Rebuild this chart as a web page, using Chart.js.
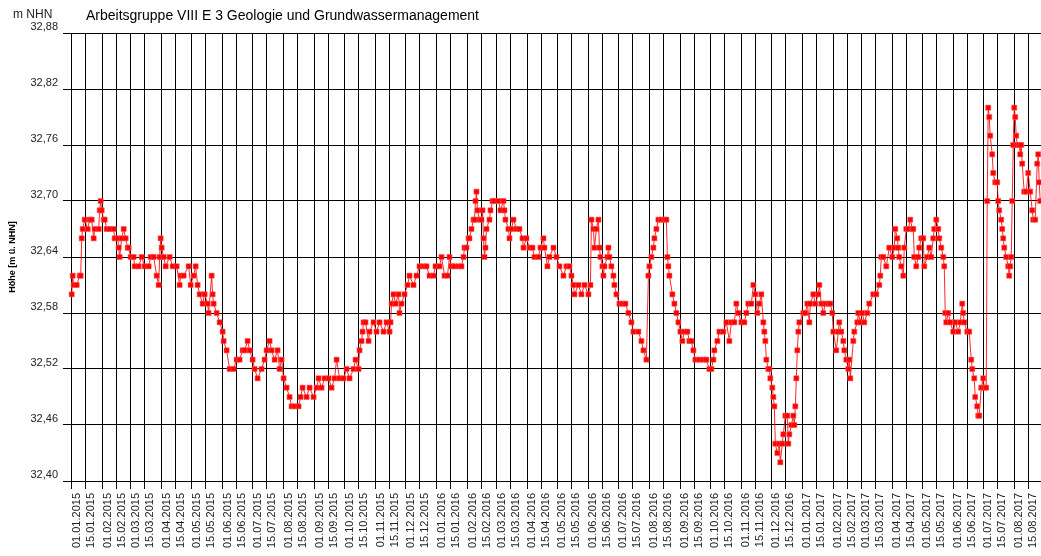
<!DOCTYPE html>
<html>
<head>
<meta charset="utf-8">
<script src="https://cdn.jsdelivr.net/npm/chart.js@4/dist/chart.umd.min.js"></script>
<style>
  html, body { margin: 0; padding: 0; background: #fff; overflow: hidden; width: 1041px; height: 556px; }
  #wrap { position: relative; width: 1041px; height: 556px; overflow: hidden; }
  canvas { position: absolute; left: 0; top: 0; }
  .lbl { position: absolute; font-family: "Liberation Sans", Arial, sans-serif; color: #000; line-height: 1; white-space: nowrap; }
</style>
</head>
<body>
<div id="wrap">
  <canvas id="c" width="1060" height="556"></canvas>
  <div class="lbl" style="left:13px; top:8px; font-size:12px; color:#222;">m NHN</div>
  <div class="lbl" style="left:86px; top:8px; font-size:14px;">Arbeitsgruppe VIII E 3 Geologie und Grundwassermanagement</div>
</div>
<script>
// Day offsets counted from 01.01.2015 and the measured water levels (m NHN)
const days = [
  0,1,2,5,8,9,10,11,13,16,18,20,22,23,27,28,29,30,32,33,35,38,42,43,46,47,48,50,52,54,56,57,59,62,63,67,70,73,77,79,82,85,87,88,89,90,92,94,98,101,105,108,109,112,117,119,122,124,126,128,131,133,136,137,140,141,142,145,148,151,152,155,158,162,165,168,171,173,176,178,181,183,186,190,193,195,198,200,203,206,208,210,212,215,218,220,223,227,229,231,235,238,242,245,247,250,253,257,260,263,265,
  268,272,275,278,282,284,287,288,290,291,292,294,297,298,302,305,308,312,315,318,319,320,322,324,327,328,330,333,336,338,342,345,348,352,355,358,362,364,368,370,373,376,378,380,383,387,390,392,393,395,397,398,400,402,403,404,405,406,408,410,411,412,413,414,415,418,419,421,423,427,429,432,433,434,437,438,440,442,445,448,451,452,455,458,461,463,467,469,472,473,476,478,482,485,488,492,495,498,500,502,503,507,510,513,517,519,520,522,523,525,527,528,529,531,532,533,536,537,538,540,542,543,545,548,551,554,557,560,562,567,570,572,575,577,578,580,582,583,585,
  587,590,593,595,596,597,598,601,603,605,607,609,611,613,616,618,620,622,624,628,632,635,638,640,642,643,646,648,652,655,658,660,663,665,667,670,673,675,677,680,682,684,686,688,690,692,693,694,695,697,698,699,701,702,703,704,706,708,709,711,712,714,716,717,718,720,722,723,724,725,726,727,728,732,734,736,738,739,742,744,747,748,750,752,754,757,759,761,762,765,767,768,770,772,773,775,777,778,779,782,783,786,787,789,791,793,796,798,802,805,808,809,810,812,815,818,821,823,
  824,826,827,828,830,832,833,835,837,839,841,842,843,845,847,848,850,852,853,856,858,860,862,863,865,867,868,870,872,873,874,875,877,879,882,884,887,889,891,892,893,896,898,900,901,903,904,906,907,908,910,912,913,915,916,917,918,919,921,922,924,926,927,928,930,931,932,933,935,937,938,939,940,941,942,943,944,945,946,948,949,950,951,953,955,957,959,961,962,964,966,967,968,969
];
const levels = [
  32.60,32.62,32.61,32.61,32.62,32.62,32.66,32.67,32.68,32.67,32.68,32.68,32.66,32.67,32.67,32.69,32.70,32.69,32.68,32.68,32.67,32.67,32.67,32.66,32.66,32.65,32.64,32.66,32.67,32.66,32.65,32.65,32.64,32.64,32.63,32.63,32.64,32.63,32.63,32.64,32.64,32.62,32.61,32.64,32.66,32.65,32.64,32.63,32.64,32.63,32.63,32.61,32.62,32.62,32.63,32.61,32.62,32.63,32.61,32.60,32.59,32.60,32.59,32.58,32.62,32.60,32.59,32.58,32.57,32.56,32.55,32.54,32.52,32.52,32.53,32.53,32.54,32.54,32.55,32.54,32.53,32.52,32.51,32.52,32.53,32.54,32.55,32.54,32.53,32.54,32.52,32.53,32.51,32.50,32.49,32.48,32.48,32.48,32.49,32.50,32.49,32.50,32.49,32.50,32.51,32.50,32.51,32.51,32.50,32.51,32.53,
  32.51,32.51,32.52,32.51,32.52,32.53,32.52,32.54,32.55,32.56,32.57,32.57,32.55,32.56,32.57,32.56,32.57,32.56,32.57,32.56,32.57,32.59,32.60,32.59,32.60,32.58,32.59,32.60,32.61,32.62,32.61,32.62,32.63,32.63,32.63,32.62,32.62,32.63,32.63,32.64,32.62,32.62,32.64,32.63,32.63,32.63,32.63,32.64,32.65,32.65,32.66,32.66,32.67,32.68,32.68,32.70,32.71,32.69,32.68,32.68,32.69,32.66,32.64,32.65,32.67,32.68,32.69,32.70,32.70,32.70,32.69,32.70,32.69,32.68,32.67,32.66,32.67,32.68,32.67,32.67,32.66,32.65,32.66,32.65,32.65,32.64,32.64,32.65,32.66,32.65,32.63,32.64,32.65,32.64,32.63,32.62,32.63,32.63,32.62,32.61,32.60,32.61,32.60,32.61,32.60,32.61,32.68,32.67,32.65,32.67,32.68,32.65,32.64,32.63,32.62,32.63,32.64,32.65,32.64,32.63,32.62,32.61,32.60,32.59,32.59,32.59,32.58,32.57,32.56,32.56,32.55,32.54,32.53,32.62,32.63,32.64,32.65,32.66,32.67,
  32.68,32.68,32.68,32.68,32.64,32.63,32.62,32.60,32.59,32.58,32.57,32.56,32.55,32.56,32.56,32.55,32.55,32.54,32.53,32.53,32.53,32.53,32.52,32.52,32.53,32.54,32.55,32.56,32.56,32.57,32.55,32.57,32.57,32.59,32.58,32.57,32.57,32.58,32.59,32.59,32.61,32.60,32.58,32.59,32.60,32.57,32.56,32.55,32.53,32.52,32.52,32.51,32.50,32.49,32.48,32.44,32.43,32.44,32.42,32.44,32.45,32.47,32.47,32.44,32.45,32.46,32.47,32.46,32.48,32.51,32.54,32.56,32.57,32.58,32.58,32.59,32.57,32.59,32.60,32.59,32.60,32.61,32.59,32.58,32.59,32.59,32.59,32.58,32.56,32.54,32.56,32.57,32.56,32.55,32.54,32.53,32.52,32.53,32.51,32.55,32.56,32.57,32.58,32.57,32.58,32.57,32.58,32.59,32.60,32.60,32.61,32.62,32.64,32.64,32.63,32.65,32.64,32.65,
  32.67,32.66,32.65,32.64,32.63,32.62,32.65,32.67,32.67,32.68,32.67,32.67,32.64,32.63,32.64,32.65,32.66,32.66,32.63,32.64,32.65,32.64,32.66,32.67,32.68,32.67,32.66,32.65,32.64,32.63,32.58,32.57,32.58,32.57,32.56,32.57,32.56,32.57,32.59,32.58,32.57,32.56,32.56,32.53,32.52,32.51,32.49,32.48,32.47,32.47,32.50,32.51,32.50,32.50,32.70,32.80,32.79,32.77,32.75,32.73,32.72,32.72,32.70,32.69,32.68,32.67,32.66,32.65,32.64,32.63,32.62,32.63,32.64,32.70,32.76,32.80,32.79,32.77,32.76,32.76,32.75,32.76,32.74,32.71,32.71,32.73,32.71,32.69,32.68,32.68,32.74,32.75,32.72,32.70
];

// x-axis tick labels (1st and 15th of each month)
const tickLabels = [
  '01.01.2015','15.01.2015','01.02.2015','15.02.2015','01.03.2015','15.03.2015','01.04.2015','15.04.2015','01.05.2015','15.05.2015','01.06.2015','15.06.2015',
  '01.07.2015','15.07.2015','01.08.2015','15.08.2015','01.09.2015','15.09.2015','01.10.2015','15.10.2015','01.11.2015','15.11.2015','01.12.2015','15.12.2015',
  '01.01.2016','15.01.2016','01.02.2016','15.02.2016','01.03.2016','15.03.2016','01.04.2016','15.04.2016','01.05.2016','15.05.2016','01.06.2016','15.06.2016',
  '01.07.2016','15.07.2016','01.08.2016','15.08.2016','01.09.2016','15.09.2016','01.10.2016','15.10.2016','01.11.2016','15.11.2016','01.12.2016','15.12.2016',
  '01.01.2017','15.01.2017','01.02.2017','15.02.2017','01.03.2017','15.03.2017','01.04.2017','15.04.2017','01.05.2017','15.05.2017','01.06.2017','15.06.2017',
  '01.07.2017','15.07.2017','01.08.2017','15.08.2017'
];
// y-axis tick values
const yTicks = [32.40, 32.46, 32.52, 32.58, 32.64, 32.70, 32.76, 32.82, 32.88];

function dayOffset(label) {
  const [d, m, y] = label.split('.').map(Number);
  return Math.round((Date.UTC(y, m - 1, d) - Date.UTC(2015, 0, 1)) / 86400000);
}
const tickDays = tickLabels.map(dayOffset);

const FONT = '"Liberation Sans", Arial, sans-serif';

new Chart(document.getElementById('c'), {
  type: 'line',
  data: {
    datasets: [{
      data: days.map((d, i) => ({ x: d, y: levels[i] })),
      borderColor: 'rgba(255,0,0,0.85)',
      borderWidth: 1,
      pointStyle: 'rect',
      pointRadius: 3.6,
      pointBackgroundColor: '#ff0000',
      pointBorderColor: 'rgba(255,90,90,0.55)',
      pointBorderWidth: 1,
      tension: 0,
      clip: false
    }]
  },
  options: {
    responsive: false,
    animation: false,
    events: [],
    layout: { padding: { top: 33, right: 0, bottom: 0, left: 0 } },
    plugins: { legend: { display: false }, tooltip: { enabled: false }, title: { display: false } },
    scales: {
      x: {
        type: 'linear',
        min: -8.7,
        max: 983.8,
        afterBuildTicks: s => { s.ticks = tickDays.map(v => ({ value: v })); },
        afterFit: s => { s.height = 75; },
        ticks: {
          autoSkip: false,
          minRotation: 90,
          maxRotation: 90,
          padding: 4,
          labelOffset: 5,
          color: '#222',
          font: { family: FONT, size: 11 },
          callback: (v, i) => tickLabels[i]
        },
        grid: { color: '#000', lineWidth: 1, drawTicks: true, tickLength: 8, tickColor: '#000' },
        border: { display: true, color: '#000', width: 1 }
      },
      y: {
        min: 32.40,
        max: 32.88,
        afterBuildTicks: s => { s.ticks = yTicks.map(v => ({ value: v })); },
        afterFit: s => { s.width = 63; },
        ticks: {
          padding: 5,
          labelOffset: -6,
          color: '#222',
          font: { family: FONT, size: 11 },
          callback: v => Number(v).toFixed(2).replace('.', ',')
        },
        grid: { color: '#000', lineWidth: 1, drawTicks: false },
        border: { display: false },
        title: {
          display: true,
          text: 'Höhe [m ü. NHN]',
          color: '#000',
          font: { family: FONT, size: 9, weight: 'bold' },
          padding: { top: 7, bottom: 0 }
        }
      }
    }
  }
});
</script>
</body>
</html>
